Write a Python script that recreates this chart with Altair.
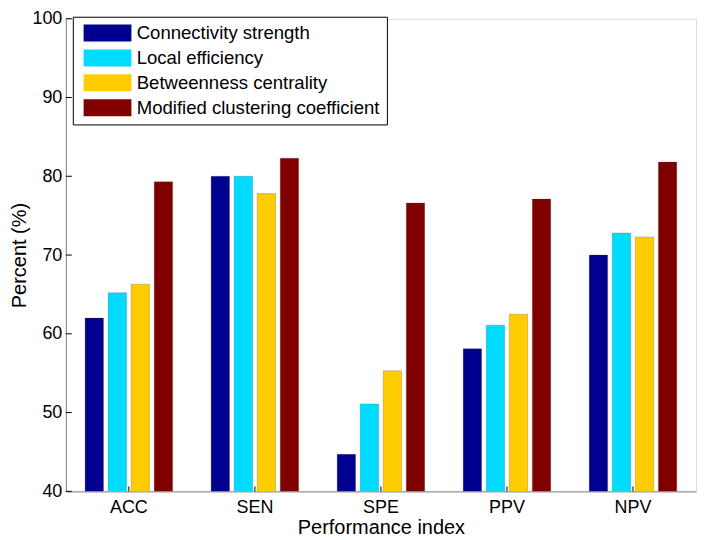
import altair as alt
import pandas as pd

categories = ["ACC", "SEN", "SPE", "PPV", "NPV"]
series = ["Connectivity strength", "Local efficiency",
          "Betweenness centrality", "Modified clustering coefficient"]
connectivity_strength = [62.0, 80.0, 44.7, 58.1, 70.0]
local_efficiency = [65.2, 80.0, 51.1, 61.1, 72.8]
betweenness_centrality = [66.3, 77.8, 55.3, 62.5, 72.3]
modified_clustering = [79.3, 82.3, 76.6, 77.1, 81.8]
colors = ["#000090", "#00DCFF", "#FFCC00", "#800000"]
y_ticks = [40, 50, 60, 70, 80, 90, 100]

FONT = "Liberation Sans"
H = 474

rows = []
for s, vals in zip(series, [connectivity_strength, local_efficiency,
                            betweenness_centrality, modified_clustering]):
    for c, v in zip(categories, vals):
        rows.append({"category": c, "series": s, "value": v})
df = pd.DataFrame(rows)
ytick_df = pd.DataFrame({"value": y_ticks})
xtick_df = pd.DataFrame({"category": categories})

x_enc = alt.X("category:N", sort=categories,
              scale=alt.Scale(paddingInner=0, paddingOuter=0),
              axis=alt.Axis(title="Performance index", labelAngle=0, ticks=False,
                            labelPadding=7, labelFontSize=18, titleFontSize=20,
                            titleFontWeight="normal", titlePadding=1))
y_enc = alt.Y("value:Q", scale=alt.Scale(domain=[40, 100], nice=False, zero=False),
              axis=alt.Axis(title="Percent (%)", values=y_ticks, ticks=False, grid=False,
                            labelPadding=4, labelFontSize=18, titleFontSize=20,
                            titleFontWeight="normal", titlePadding=2))

bars = alt.Chart(df).mark_bar(stroke="#444444", strokeWidth=0.5, strokeOpacity=0.5,
                              clip=True).encode(
    x=x_enc,
    xOffset=alt.XOffset("series:N", sort=series,
                        scale=alt.Scale(paddingInner=0.2, paddingOuter=0.835)),
    y=y_enc,
    color=alt.Color("series:N", sort=series,
                    scale=alt.Scale(domain=series, range=colors),
                    legend=alt.Legend(title=None, orient="none", legendX=7, legendY=-2,
                                      symbolType="M-2.82,-1H2.82V1H-2.82Z",
                                      symbolSize=289, symbolStrokeWidth=0,
                                      symbolOpacity=1,
                                      labelFontSize=18.6, labelFont=FONT, labelLimit=400,
                                      labelColor="black",
                                      padding=7, strokeColor="black", fillColor="white",
                                      rowPadding=6, labelOffset=20, symbolOffset=18.5,
                                      cornerRadius=0)),
)

yticks = alt.Chart(ytick_df).mark_rule(color="black", strokeWidth=1).encode(
    y=y_enc, x=alt.value(0), x2=alt.value(6))

xticks = alt.Chart(xtick_df).mark_rule(color="black", strokeWidth=1).encode(
    x=alt.X("category:N", sort=categories, bandPosition=0.5,
            scale=alt.Scale(paddingInner=0, paddingOuter=0)),
    y=alt.value(H), y2=alt.value(H - 5))

chart = alt.layer(bars, yticks, xticks).properties(
    width=632, height=H,
    autosize=alt.AutoSizeParams(type="none"),
    padding={"left": 58, "top": 10, "right": 5, "bottom": 46},
).configure_view(stroke=None).configure_axis(
    domainColor="black", domainWidth=1, labelColor="black", titleColor="black",
    labelFont=FONT, titleFont=FONT,
).configure(font=FONT)

chart.save("out.html", embed_options={"renderer": "svg", "actions": False})
